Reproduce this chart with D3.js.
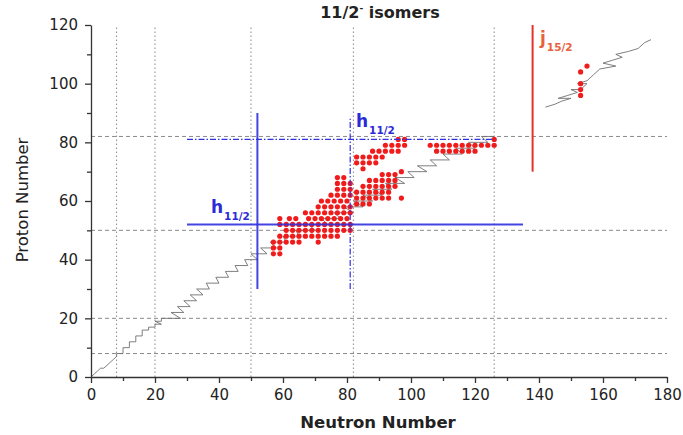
<!DOCTYPE html>
<html>
<head>
<meta charset="utf-8">
<script src="https://cdn.jsdelivr.net/npm/d3@7"></script>
<style>
  body { margin: 0; background: #fff; }
  text { font-family: "DejaVu Sans", sans-serif; }
</style>
</head>
<body>
<svg width="683" height="435"></svg>
<script>
// axis ticks
const xTicks = [0, 20, 40, 60, 80, 100, 120, 140, 160, 180]
const xMinor = [10, 30, 50, 70, 90, 110, 130, 150, 170]
const yTicks = [0, 20, 40, 60, 80, 100, 120]
const yMinor = [10, 30, 50, 70, 90, 110]

// magic numbers (grid lines)
const magicN = [8, 20, 50, 82, 126]
const magicZ = [8, 20, 50, 82]

// line of stable nuclei [N, Z]
const stableLine = [
  [0, 0], [1, 1], [2, 2], [3, 3], [4, 3], [5, 4], [6, 5], [7, 6], [8, 7], [8, 8],
  [10, 8], [10, 10], [12, 10], [12, 12], [14, 12], [14, 14], [16, 14], [16, 16],
  [18, 16], [18, 17], [20, 17], [20, 18], [22, 18], [20, 19], [22, 19], [22, 20],
  [28, 20], [25, 22], [29, 22], [27, 24], [31, 24], [29, 26], [33, 26], [31, 28],
  [35, 28], [33, 30], [37, 30], [36, 32], [40, 32], [39, 34], [43, 34], [42, 36],
  [46, 36], [45, 38], [49, 38], [48, 40], [52, 40], [50, 42], [55, 42], [53, 44],
  [58, 44], [56, 46], [61, 46], [60, 48], [65, 48], [64, 50], [70, 50], [68, 52],
  [74, 52], [72, 54], [78, 54], [76, 56], [82, 56], [79, 58], [85, 58], [82, 60],
  [88, 60], [85, 62], [91, 62], [88, 64], [94, 64], [92, 66], [98, 66], [95, 68],
  [101, 68], [99, 70], [105, 70], [102, 72], [108, 72], [106, 74], [112, 74],
  [110, 76], [116, 76], [114, 78], [120, 78], [118, 80], [124, 80], [122, 82], [126, 82]
]
const heavyLine = [
  [142, 92], [145, 93], [147, 94], [150, 95], [146, 95], [149, 96], [152, 97],
  [150, 98], [153, 98], [155, 100], [152, 100], [155, 101], [157, 103], [159, 105],
  [164, 106], [160, 107], [163, 108], [166, 109], [164, 110], [168, 111],
  [171, 112], [173, 114], [175, 115]
]

// 11/2- isomers: [Z, list of N]
const isomerRows = [
  [42, [57, 59]],
  [44, [57, 59]],
  [46, [57, 59, 61, 63, 65, 71]],
  [48, [59, 61, 63, 65, 67, 69, 71, 73, 75, 77]],
  [50, [61, 63, 65, 67, 69, 71, 73, 75, 77, 79, 81]],
  [52, [59, 61, 63, 65, 67, 69, 71, 73, 75, 77, 79, 81]],
  [54, [59, 62, 64, 68, 70, 72, 74, 76, 78, 80]],
  [56, [67, 69, 71, 73, 75, 77, 79, 81]],
  [58, [71, 73, 75, 77, 79, 81]],
  [60, [72, 74, 76, 78, 80]],
  [62, [75, 77, 79, 81]],
  [64, [77, 79, 81]],
  [66, [77, 79, 81]],
  [68, [77, 79]],
  [59, [83, 85, 87]],
  [61, [83, 85, 87, 89, 91, 93, 97]],
  [63, [83, 85, 87, 89, 91, 93]],
  [65, [85, 87, 89, 91, 93, 95]],
  [67, [87, 89, 91, 93, 95]],
  [69, [91, 93, 95]],
  [70, [97]],
  [71, [85]],
  [73, [83, 85, 87, 89]],
  [75, [83, 85, 87, 89, 91]],
  [77, [88, 90, 92, 94, 96, 108, 110, 112, 114, 116, 118, 120]],
  [79, [92, 94, 96, 98, 106, 108, 110, 112, 114, 116, 118, 120, 122, 124, 126]],
  [81, [96, 98, 126]],
  [96, [153]], [98, [153]], [100, [153]], [104, [153]], [106, [155]]
]

// shell-gap markers: N range and Z range
const shellMarks = [
  { kind: 'h', n: [52, 52], z: [30, 90] },
  { kind: 'h', n: [30, 135], z: [52, 52] },
  { kind: 'hd', n: [81, 81], z: [30, 88] },
  { kind: 'hd', n: [30, 126], z: [81, 81] },
  { kind: 'j', n: [138, 138], z: [70, 120] }
]

const svg = d3.select('svg')
const x = d3.scaleLinear().domain([0, 180]).range([91, 667])
const y = d3.scaleLinear().domain([0, 120]).range([377, 25])

// grid
svg.append('g').selectAll('line')
  .data(magicN).enter().append('line')
  .attr('x1', d => x(d)).attr('x2', d => x(d))
  .attr('y1', y(0)).attr('y2', y(120))
  .attr('stroke', '#8a8a8a').attr('stroke-width', 1)
  .attr('stroke-dasharray', '1.5,2.5')
svg.append('g').selectAll('line')
  .data(magicZ).enter().append('line')
  .attr('x1', x(0)).attr('x2', x(180))
  .attr('y1', d => y(d)).attr('y2', d => y(d))
  .attr('stroke', '#8a8a8a').attr('stroke-width', 1)
  .attr('stroke-dasharray', '4,3')

// stability line
const line = d3.line().x(d => x(d[0])).y(d => y(d[1]))
svg.append('path').datum(stableLine).attr('d', line)
  .attr('fill', 'none').attr('stroke', '#707070').attr('stroke-width', 0.9)
svg.append('path').datum(heavyLine).attr('d', line)
  .attr('fill', 'none').attr('stroke', '#707070').attr('stroke-width', 0.9)

// isomer dots
const dots = isomerRows.flatMap(r => r[1].map(n => [n, r[0]]))
svg.append('g').selectAll('circle')
  .data(dots).enter().append('circle')
  .attr('cx', d => x(d[0])).attr('cy', d => y(d[1]))
  .attr('r', 2.6).attr('fill', '#f01c1c')

// shell markers
svg.append('g').selectAll('line')
  .data(shellMarks).enter().append('line')
  .attr('x1', d => x(d.n[0])).attr('x2', d => x(d.n[1]))
  .attr('y1', d => y(d.z[0])).attr('y2', d => y(d.z[1]))
  .attr('stroke', d => d.kind == 'j' ? '#e8302a' : '#3030e0')
  .attr('stroke-width', d => d.kind == 'hd' ? 1.2 : 2)
  .attr('stroke-opacity', d => d.kind == 'h' ? 0.9 : 1)
  .attr('stroke-dasharray', d => d.kind == 'hd' ? '6,2,1.5,2' : null)

// labels
function orbital(px, py, main, sub, color) {
  const t = svg.append('text').attr('x', px).attr('y', py)
    .attr('fill', color).attr('font-weight', 'bold')
  t.append('tspan').attr('font-size', 17).text(main)
  t.append('tspan').attr('font-size', 10.5).attr('dx', 1).attr('dy', 7).text(sub)
}
orbital(211, 213, 'h', '11/2', '#2b2bd6')
orbital(356, 127, 'h', '11/2', '#2b2bd6')
orbital(540, 44, 'j', '15/2', '#e8603c')

// axes
svg.append('g').attr('transform', `translate(0,${y(0)})`)
  .call(d3.axisBottom(x).tickValues(xTicks).tickSize(6).tickSizeOuter(0).tickPadding(6))
svg.append('g').attr('transform', `translate(0,${y(0)})`)
  .call(d3.axisBottom(x).tickValues(xMinor).tickSize(4).tickFormat(''))
  .select('.domain').remove()
svg.append('g').attr('transform', `translate(${x(0)},0)`)
  .call(d3.axisLeft(y).tickValues(yTicks).tickSize(6).tickSizeOuter(0).tickPadding(7))
svg.append('g').attr('transform', `translate(${x(0)},0)`)
  .call(d3.axisLeft(y).tickValues(yMinor).tickSize(4).tickFormat(''))
  .select('.domain').remove()

svg.selectAll('.domain, .tick line').attr('stroke', '#333').attr('stroke-width', 1.3)
svg.selectAll('.tick text').attr('font-size', 15).attr('fill', '#222')
  .attr('font-family', '"DejaVu Sans", sans-serif')

// titles
const title = svg.append('text').attr('x', 380).attr('y', 18)
  .attr('text-anchor', 'middle').attr('font-size', 16).attr('font-weight', 'bold')
  .attr('fill', '#222')
title.append('tspan').text('11/2')
title.append('tspan').attr('font-size', 9).attr('dy', -7).text('-')
title.append('tspan').attr('dy', 7).text(' isomers')

svg.append('text').attr('x', 378).attr('y', 428)
  .attr('text-anchor', 'middle').attr('font-size', 16.5).attr('font-weight', 'bold')
  .attr('fill', '#222').text('Neutron Number')

svg.append('text').attr('transform', 'translate(28,200) rotate(-90)')
  .attr('text-anchor', 'middle').attr('font-size', 16.5)
  .attr('fill', '#222').text('Proton Number')
</script>
</body>
</html>
